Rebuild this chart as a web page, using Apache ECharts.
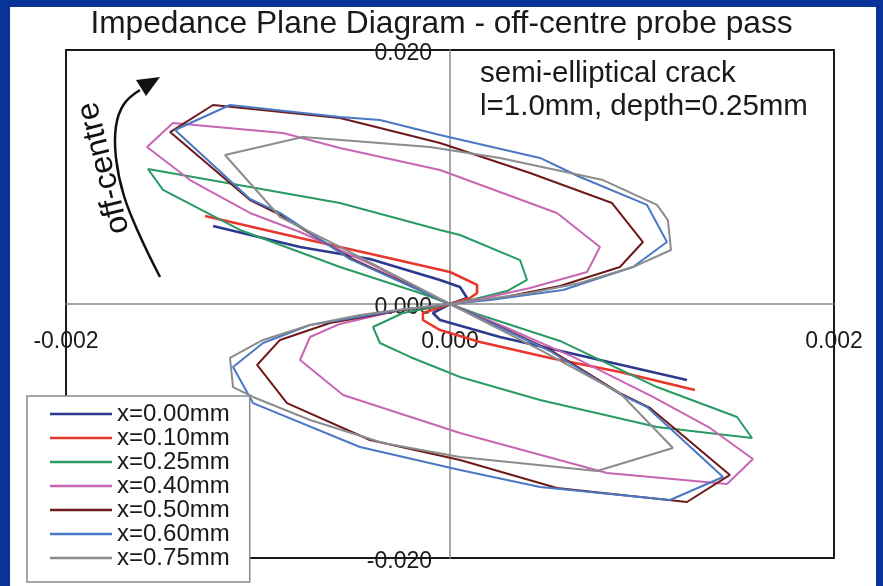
<!DOCTYPE html>
<html>
<head>
<meta charset="utf-8">
<script src="https://cdn.jsdelivr.net/npm/echarts@6/dist/echarts.min.js"></script>
<style>
html,body{margin:0;padding:0;background:#0a3399;}
#chart{width:883px;height:586px;}
</style>
</head>
<body>
<div id="chart"></div>
<script>
// ---- data (x, y in impedance units) ----
const seriesNames = ['x=0.00mm','x=0.10mm','x=0.25mm','x=0.40mm','x=0.50mm','x=0.60mm','x=0.75mm'];
const seriesColors = ['#2b3a8c','#e8382c','#2a9a64','#c866b4','#6e1a1a','#4a78c4','#8c8c8c'];

const x000 = [-0.001234,-0.000781,-0.000417,-0.000052,0.000052,0.000089,0,-0.000089,-0.000052,0.00026,0.000781,0.001234];
const y000 = [0.00614,0.00449,0.00354,0.00189,0.00134,0.00047,0,-0.00071,-0.00126,-0.0026,-0.00441,-0.00598];

const x010 = [-0.001276,-0.000781,-0.000365,0,0.000141,0.000141,0.000104,0,-0.000141,-0.000141,-0.000052,0.000156,0.000521,0.000885,0.001276];
const y010 = [0.00693,0.0052,0.00378,0.00252,0.0015,0.00087,0.00047,0,-0.00071,-0.00126,-0.00205,-0.00299,-0.00425,-0.00535,-0.00677];

const x025 = [0,-0.000141,-0.000573,-0.001094,-0.001495,-0.001573,-0.001042,-0.000573,-0.000052,0.000052,0.000365,0.000401,0.000297,0.00013,0,-0.000245,-0.000401,-0.000365,-0.000208,0.000052,0.000469,0.001078,0.001573,0.001495,0.001078,0.000573,0.000141,0];
const y025 = [0,0.00079,0.00291,0.00583,0.00898,0.01063,0.00921,0.00795,0.00583,0.00543,0.00346,0.00189,0.00102,0.00039,0,-0.00071,-0.00181,-0.00307,-0.00417,-0.00575,-0.00756,-0.00969,-0.01055,-0.0089,-0.00654,-0.00291,-0.00079,0];

const x040 = [0,-0.000156,-0.000401,-0.000781,-0.001042,-0.001354,-0.001578,-0.001443,-0.00087,-0.000573,-0.000052,0.000557,0.000781,0.000714,0.000417,0.000156,0,-0.00026,-0.000573,-0.000729,-0.000781,-0.000557,0.000052,0.000818,0.001443,0.001578,0.001354,0.001057,0.000641,0.000297,0];
const y040 = [0,0.0011,0.00307,0.00567,0.00717,0.00976,0.01236,0.01425,0.01346,0.01228,0.01055,0.00717,0.00449,0.00252,0.00126,0.00039,0,-0.00047,-0.00157,-0.0026,-0.00441,-0.00717,-0.01016,-0.01331,-0.01417,-0.0122,-0.00976,-0.00732,-0.00417,-0.00189,0];

const x050 = [0,-0.000521,-0.000885,-0.001042,-0.001458,-0.001234,-0.000573,-0.000052,0.000417,0.000844,0.001005,0.000885,0.000573,0.00026,0,-0.000276,-0.000625,-0.000885,-0.001005,-0.000849,-0.000417,0.000052,0.000557,0.001234,0.001458,0.001042,0.000885,0.000521,0];
const y050 = [0,0.00362,0.00701,0.00819,0.01354,0.01567,0.01465,0.01268,0.01031,0.00795,0.00488,0.00291,0.00142,0.00047,0,-0.00055,-0.0015,-0.00283,-0.0048,-0.0078,-0.01071,-0.01228,-0.01449,-0.01559,-0.01346,-0.00819,-0.00701,-0.00362,0];

const x060 = [0,-0.000521,-0.000885,-0.001042,-0.001432,-0.001146,-0.000573,-0.000365,-0.000052,0.000469,0.000677,0.001026,0.00113,0.000953,0.000589,0.000208,0,-0.00026,-0.000729,-0.000974,-0.00113,-0.001026,-0.000469,0.000052,0.000469,0.001146,0.001422,0.001026,0.000885,0.000521,0];
const y060 = [0,0.00354,0.00717,0.00827,0.0137,0.01567,0.01472,0.01449,0.01331,0.0115,0.01,0.0078,0.00488,0.00291,0.0011,0.00031,0,-0.00047,-0.00165,-0.00307,-0.00496,-0.0078,-0.01126,-0.01307,-0.01441,-0.01543,-0.01362,-0.00811,-0.00709,-0.0037,0];

const x075 = [0,-0.000573,-0.000885,-0.001172,-0.000766,-0.000104,0.00026,0.000797,0.001078,0.001135,0.001151,0.000953,0.000677,0.000417,0.000156,0,-0.000276,-0.000469,-0.000729,-0.000974,-0.001146,-0.00113,-0.001026,-0.000729,-0.000349,0.000052,0.000766,0.001161,0.000885,0.000469,0];
const y075 = [0,0.00449,0.00685,0.01173,0.01315,0.01236,0.0115,0.00976,0.0078,0.00661,0.00425,0.00291,0.00165,0.00087,0.00031,0,-0.00047,-0.00087,-0.00165,-0.00283,-0.00425,-0.00654,-0.00732,-0.00913,-0.01094,-0.01205,-0.01315,-0.01134,-0.00701,-0.00362,0];

const xTicks = {min:-0.002, max:0.002, interval:0.002};
const yTicks = {min:-0.02, max:0.02, interval:0.02};

const titleText = 'Impedance Plane Diagram - off-centre probe pass';
const noteText = 'semi-elliptical crack\nl=1.0mm, depth=0.25mm';
const arrowText = 'off-centre';

// ---- build ----
const allX = [x000,x010,x025,x040,x050,x060,x075];
const allY = [y000,y010,y025,y040,y050,y060,y075];
const FONT = '"Liberation Sans", Arial, sans-serif';
const fmt = v => (Math.abs(v) < 1e-12 ? 0 : v).toFixed(3);

const GRID = {left: 66, top: 50, width: 768, height: 508};

const series = seriesNames.map((name, i) => ({
  name: name,
  type: 'line',
  data: allX[i].map((x, k) => [x, allY[i][k]]),
  showSymbol: false,
  symbol: 'none',
  smooth: false,
  color: seriesColors[i],
  lineStyle: {color: seriesColors[i], width: (i < 2 ? 2.6 : 2)},
  animation: false
}));

const chart = echarts.init(document.getElementById('chart'), null, {renderer: 'canvas'});
chart.setOption({
  backgroundColor: '#0a3399',
  animation: false,
  textStyle: {fontFamily: FONT},
  title: {
    text: titleText, left: 'center', top: 3,
    textStyle: {fontSize: 31.7, fontWeight: 'normal', color: '#1a1a1a', fontFamily: FONT}
  },
  grid: Object.assign({show: true, borderColor: '#1a1a1a', borderWidth: 2, backgroundColor: 'transparent',
    containLabel: false, outerBoundsMode: 'none'}, GRID),
  xAxis: {
    type: 'value', min: xTicks.min, max: xTicks.max, interval: xTicks.interval,
    position: 'bottom', offset: -GRID.height / 2,
    axisLine: {onZero: false, lineStyle: {color: '#8a8a8a', width: 1.5}},
    axisTick: {show: false}, splitLine: {show: false},
    axisLabel: {fontSize: 23, color: '#1a1a1a', margin: 26, formatter: fmt, showMinLabel: true, showMaxLabel: true, hideOverlap: false}
  },
  yAxis: {
    type: 'value', min: yTicks.min, max: yTicks.max, interval: yTicks.interval,
    position: 'left', offset: -GRID.width / 2,
    axisLine: {onZero: false, lineStyle: {color: '#8a8a8a', width: 1.5}},
    axisTick: {show: false}, splitLine: {show: false},
    axisLabel: {fontSize: 23, color: '#1a1a1a', margin: 18, verticalAlign: 'top', lineHeight: 7,
      formatter: fmt, showMinLabel: true, showMaxLabel: true, hideOverlap: false}
  },
  legend: {
    orient: 'vertical', left: 27, top: 396,
    padding: [6, 20, 12, 23], itemGap: 0, itemWidth: 62, itemHeight: 2.5,
    icon: 'rect',
    backgroundColor: '#ffffff', borderColor: '#8a8a8a', borderWidth: 1.5, borderRadius: 0,
    textStyle: {fontSize: 24, lineHeight: 24, color: '#1a1a1a', fontFamily: FONT},
    data: seriesNames
  },
  graphic: [
    {type: 'rect', z: -100, shape: {x: 10, y: 7, width: 866, height: 579}, style: {fill: '#ffffff'}},
    {type: 'text', z: 10, x: 480, y: 57, style: {text: noteText, lineHeight: 33, fill: '#1a1a1a', font: '29.5px ' + FONT}},
    {type: 'text', z: 10, x: 104, y: 168, rotation: 104 * Math.PI / 180,
      style: {text: arrowText, fill: '#111', font: '32px ' + FONT, align: 'center', verticalAlign: 'middle'}},
    {type: 'polyline', z: 10, shape: {points: [[160,277],[140,236],[124,196],[116,158],[116,126],[124,104],[140,90]], smooth: 0.4},
      style: {stroke: '#111', lineWidth: 2.5, fill: null}},
    {type: 'polygon', z: 10, shape: {points: [[160,77],[136,80],[146,96]]}, style: {fill: '#111'}}
  ],
  series: series
});
</script>
</body>
</html>
